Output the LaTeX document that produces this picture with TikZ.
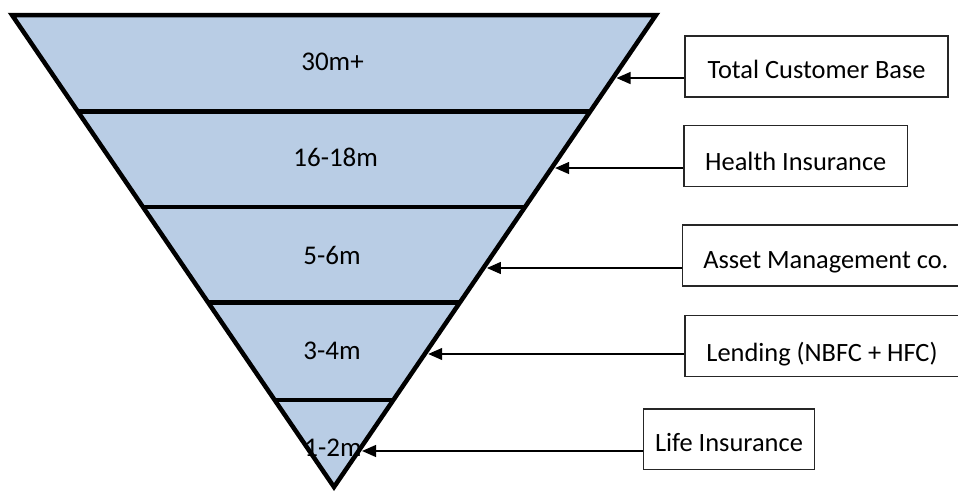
\documentclass[tikz,border=0pt]{standalone}
\usepackage{fontspec}
\setmainfont{Carlito}
\usetikzlibrary{arrows.meta,calc}
\definecolor{tierfill}{HTML}{B9CDE5}
\begin{document}
\begin{tikzpicture}[x=1pt,y=-1pt,
  tier/.style={font=\fontsize{27}{32}\selectfont, inner sep=0pt, anchor=base},
  infobox/.style={draw=black!85, line width=1.3pt, fill=white, inner xsep=0pt,
    inner ysep=0pt, font=\fontsize{26.4}{31}\selectfont},
  pointer/.style={line width=1.3pt, -{Triangle[length=14pt,width=12pt]}},
  divider/.style={line width=4.5pt}]
\useasboundingbox (0,0) rectangle (958,493);

% funnel corners
\coordinate (TL) at (12,15);
\coordinate (TR) at (656,15);
\coordinate (AP) at (334,487);

\fill[tierfill] (TL) -- (TR) -- (AP) -- cycle;

% horizontal dividers between tiers
\foreach \f in {0.2049,0.4068,0.6089,0.8158}
  \draw[divider] ($(TL)!\f!(AP)$) -- ($(TR)!\f!(AP)$);

\draw[divider, line join=miter] (TL) -- (TR) -- (AP) -- cycle;

% tier values
\node[tier] (v1) at (332.5,70.7) {30m+};
\node[tier] (v2) at (335.7,166.7) {16-18m};
\node[tier] (v3) at (332,264) {5-6m};
\node[tier] (v4) at (332,359.3) {3-4m};
\node[tier] (v5) at (333,456) {1-2m};

% label boxes
\node[infobox, minimum width=263pt, text height=42pt, text depth=19pt]
  (b1) at (816.5,66.5) {Total Customer Base};
\node[infobox, minimum width=223.7pt, text height=44.3pt, text depth=16.7pt]
  (b2) at (795.8,156.2) {Health Insurance};
\node[infobox, minimum width=286pt, text height=43.3pt, text depth=17.7pt]
  (b3) at (825.8,255.5) {Asset Management co.};
\node[infobox, minimum width=274pt, text height=46pt, text depth=15pt]
  (b4) at (822,346.2) {Lending (NBFC + HFC)};
\node[infobox, minimum width=170.6pt, text height=42pt, text depth=18.3pt]
  (b5) at (729,439.2) {Life Insurance};

% points on the right side of the funnel
\coordinate (e1) at ($(TR)!0.1335!(AP)$);
\coordinate (e2) at ($(TR)!0.3242!(AP)$);
\coordinate (e3) at ($(TR)!0.5360!(AP)$);
\coordinate (e4) at ($(TR)!0.7182!(AP)$);
\coordinate (e5) at ($(TR)!0.9237!(AP)$);

\draw[pointer] (b1.west |- e1) -- ([xshift=3.5pt]e1);
\draw[pointer] (b2.west |- e2) -- ([xshift=3.5pt]e2);
\draw[pointer] (b3.west |- e3) -- ([xshift=3.5pt]e3);
\draw[pointer] (b4.west |- e4) -- ([xshift=3.5pt]e4);
\draw[pointer] (b5.west |- e5) -- ([xshift=3.5pt]e5);
\end{tikzpicture}
\end{document}
